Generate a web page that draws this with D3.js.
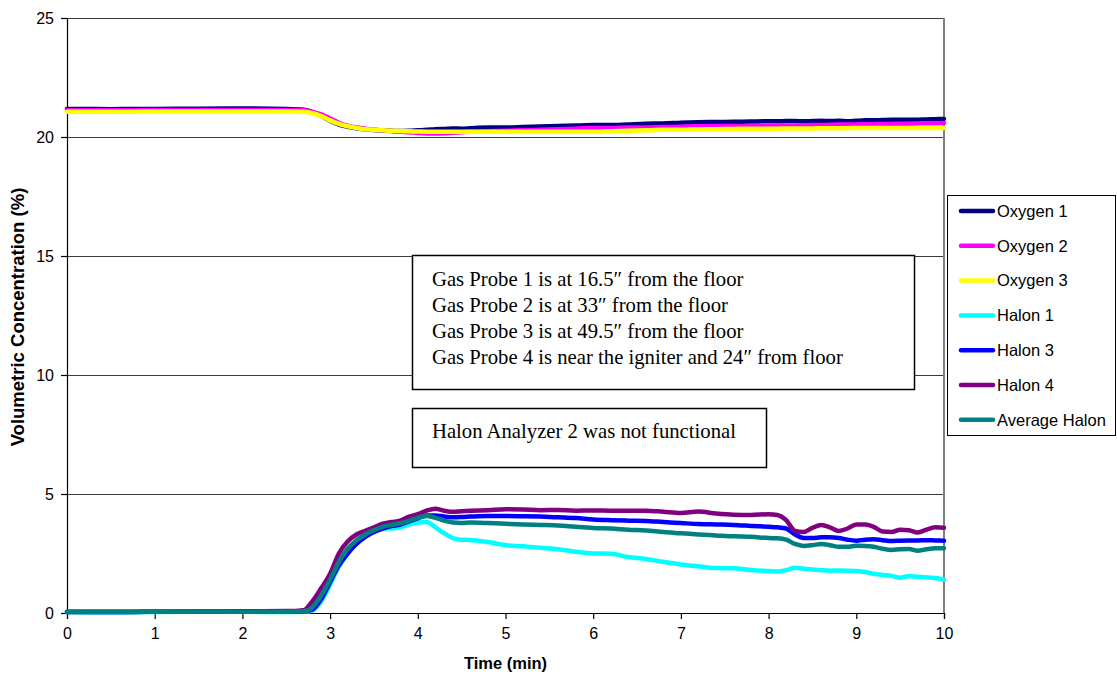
<!DOCTYPE html>
<html>
<head>
<meta charset="utf-8">
<script src="https://cdn.jsdelivr.net/npm/d3@7"></script>
<style>
  html, body { margin: 0; padding: 0; background: #fff; }
  svg { display: block; }
</style>
</head>
<body>
<svg id="chart" width="1117" height="677"></svg>
<script>
// ---- Data ----
const timeMin = [
  0, 0.5, 1, 1.5, 2, 2.5,
  2.7, 2.8, 2.9,
  3.0, 3.1, 3.2, 3.3, 3.4, 3.5, 3.6, 3.7, 3.8, 3.9, 4.0, 4.1, 4.2, 4.3, 4.4, 4.5, 4.6,
  4.8, 5.0, 5.2, 5.4, 5.6, 5.8, 6.0, 6.2, 6.4, 6.6, 6.8, 7.0, 7.2, 7.4, 7.6, 7.8, 8.0,
  8.1, 8.2, 8.3, 8.4, 8.5, 8.6, 8.7, 8.8, 8.9, 9.0, 9.1, 9.2, 9.3, 9.4, 9.5, 9.6, 9.7, 9.8, 9.9, 10.0
];
const oxygen1 = [
  21.18, 21.17, 21.18, 21.19, 21.2, 21.18,
  21.15, 21.05, 20.88,
  20.68, 20.52, 20.43, 20.37, 20.32, 20.29, 20.27, 20.26, 20.25, 20.26, 20.28, 20.3, 20.33, 20.34, 20.36, 20.35, 20.37,
  20.4, 20.4, 20.42, 20.44, 20.46, 20.48, 20.5, 20.5, 20.53, 20.56, 20.57, 20.6, 20.62, 20.63, 20.64, 20.65, 20.66,
  20.66, 20.67, 20.67, 20.66, 20.67, 20.68, 20.67, 20.68, 20.66, 20.68, 20.7, 20.7, 20.71, 20.72, 20.72, 20.73, 20.73, 20.74, 20.75, 20.76
];
const oxygen2 = [
  21.12, 21.12, 21.13, 21.13, 21.13, 21.13,
  21.12, 21.05, 20.95,
  20.78, 20.6, 20.48, 20.4, 20.35, 20.3, 20.27, 20.25, 20.22, 20.2, 20.17, 20.15, 20.15, 20.16, 20.18, 20.2, 20.22,
  20.24, 20.26, 20.28, 20.3, 20.33, 20.35, 20.38, 20.38, 20.4, 20.4, 20.42, 20.43, 20.45, 20.46, 20.46, 20.46, 20.47,
  20.48, 20.48, 20.48, 20.49, 20.5, 20.5, 20.51, 20.52, 20.52, 20.53, 20.54, 20.54, 20.55, 20.55, 20.56, 20.56, 20.57, 20.58, 20.58, 20.59
];
const oxygen3 = [
  21.06, 21.06, 21.07, 21.07, 21.07, 21.07,
  21.06, 21.0, 20.88,
  20.7, 20.55, 20.45, 20.38, 20.33, 20.3, 20.28, 20.26, 20.25, 20.24, 20.23, 20.22, 20.22, 20.22, 20.22, 20.22, 20.22,
  20.22, 20.22, 20.22, 20.22, 20.22, 20.22, 20.22, 20.24, 20.26, 20.28, 20.3, 20.3, 20.32, 20.33, 20.34, 20.35, 20.35,
  20.35, 20.36, 20.36, 20.36, 20.36, 20.37, 20.37, 20.37, 20.37, 20.38, 20.38, 20.38, 20.38, 20.38, 20.38, 20.38, 20.38, 20.38, 20.38, 20.38
];
const halon1 = [
  0.04, 0.03, 0.04, 0.05, 0.05, 0.04,
  0.05, 0.1, 0.5,
  1.2, 1.95, 2.5, 2.9, 3.2, 3.4, 3.55, 3.55, 3.6, 3.72, 3.8, 3.82, 3.6, 3.35, 3.15, 3.08, 3.07,
  2.98, 2.85, 2.8, 2.74, 2.68, 2.57, 2.5, 2.49, 2.35, 2.27, 2.15, 2.04, 1.96, 1.89, 1.88, 1.81, 1.76,
  1.74, 1.8, 1.9, 1.86, 1.83, 1.8, 1.78, 1.79, 1.78, 1.76, 1.72, 1.65, 1.6, 1.56, 1.48, 1.55, 1.52, 1.5, 1.47, 1.41
];
const halon3 = [
  0.04, 0.04, 0.05, 0.05, 0.06, 0.06,
  0.06, 0.15, 0.6,
  1.3, 2.0, 2.5, 2.9, 3.2, 3.4, 3.55, 3.65, 3.72, 3.85, 3.98, 4.1, 4.1, 4.05, 4.02, 4.03, 4.05,
  4.08, 4.08, 4.07, 4.05, 4.02, 3.99, 3.93, 3.9, 3.88, 3.87, 3.82, 3.78, 3.74, 3.72, 3.7, 3.66, 3.62,
  3.6, 3.55, 3.3, 3.15, 3.15, 3.18, 3.18, 3.15, 3.08, 3.04, 3.08, 3.1, 3.06, 3.02, 3.04, 3.05, 3.05, 3.06, 3.05, 3.04
];
const halon4 = [
  0.05, 0.05, 0.05, 0.06, 0.07, 0.08,
  0.12, 0.5, 1.05,
  1.65, 2.5, 3.0, 3.3, 3.45, 3.6, 3.75, 3.82, 3.88, 4.05, 4.15, 4.3, 4.38, 4.3, 4.25, 4.28, 4.3,
  4.32, 4.36, 4.35, 4.32, 4.33, 4.3, 4.31, 4.3, 4.3, 4.3, 4.25, 4.2, 4.26, 4.18, 4.13, 4.12, 4.15,
  4.12, 3.9, 3.45, 3.4, 3.58, 3.7, 3.6, 3.45, 3.55, 3.72, 3.72, 3.62, 3.42, 3.4, 3.5, 3.48, 3.38, 3.5, 3.6, 3.58
];
const averageHalon = [
  0.04, 0.04, 0.05, 0.05, 0.05, 0.05,
  0.07, 0.25, 0.75,
  1.4, 2.15, 2.7, 3.05, 3.3, 3.48, 3.62, 3.7, 3.77, 3.88, 4.0, 4.08, 4.0, 3.88, 3.8, 3.78, 3.8,
  3.78, 3.75, 3.72, 3.7, 3.68, 3.62, 3.57, 3.55, 3.5, 3.47, 3.4, 3.35, 3.3, 3.26, 3.22, 3.2, 3.15,
  3.14, 3.08, 2.9, 2.82, 2.85, 2.9, 2.85, 2.78, 2.78, 2.83, 2.82, 2.78, 2.7, 2.65, 2.68, 2.69, 2.62, 2.68, 2.72, 2.72
];
const seriesNames = ["Oxygen 1", "Oxygen 2", "Oxygen 3", "Halon 1", "Halon 3", "Halon 4", "Average Halon"];
const seriesColors = ["#000080", "#FF00FF", "#FFFF00", "#00FFFF", "#0000FF", "#800080", "#008080"];
const xTicks = [0, 1, 2, 3, 4, 5, 6, 7, 8, 9, 10];
const yTicks = [0, 5, 10, 15, 20, 25];
const noteLines = [
  "Gas Probe 1 is at 16.5\u2033 from the floor",
  "Gas Probe 2 is at 33\u2033 from the floor",
  "Gas Probe 3 is at 49.5\u2033 from the floor",
  "Gas Probe 4 is near the igniter and 24\u2033 from floor"
];
const note2 = "Halon Analyzer 2 was not functional";
const xTitle = "Time (min)";
const yTitle = "Volumetric Concentration (%)";

// ---- Chart ----
const seriesValues = [oxygen1, oxygen2, oxygen3, halon1, halon3, halon4, averageHalon];
const svg = d3.select("#chart");
const plot = { left: 67, right: 944, top: 18, bottom: 613 };

const x = d3.scaleLinear().domain([0, 10]).range([plot.left, plot.right]);
const y = d3.scaleLinear().domain([0, 25]).range([plot.bottom, plot.top]);

// gridlines
svg.append("g").selectAll("line").data(yTicks.filter(d => d > 0)).join("line")
  .attr("x1", plot.left).attr("x2", plot.right)
  .attr("y1", d => y(d)).attr("y2", d => y(d))
  .attr("stroke", "#3a3a3a").attr("stroke-width", 1).attr("shape-rendering", "crispEdges");

// right border
svg.append("line")
  .attr("x1", plot.right).attr("x2", plot.right)
  .attr("y1", plot.top).attr("y2", plot.bottom)
  .attr("stroke", "#808080").attr("stroke-width", 1.5).attr("shape-rendering", "crispEdges");

// axes
const xAxis = d3.axisBottom(x).tickValues(xTicks).tickSize(6).tickPadding(6).tickFormat(d3.format("d"));
const gx = svg.append("g").attr("transform", `translate(0,${plot.bottom})`).call(xAxis);
const yAxis = d3.axisLeft(y).tickValues(yTicks).tickSize(6).tickPadding(7).tickFormat(d3.format("d"));
const gy = svg.append("g").attr("transform", `translate(${plot.left},0)`).call(yAxis);
[gx, gy].forEach(g => {
  g.select(".domain").attr("stroke", "#000").attr("stroke-width", 1.2);
  g.selectAll(".tick line").attr("stroke", "#000").attr("stroke-width", 1.2);
  g.selectAll(".tick text").attr("font-family", "Liberation Sans, Arial, sans-serif")
    .attr("font-size", 16).attr("fill", "#000");
});
gx.selectAll(".tick text").attr("dy", "0.9em");

// axis titles
svg.append("text").attr("x", (plot.left + plot.right) / 2 + 0).attr("y", 669)
  .attr("text-anchor", "middle").attr("font-family", "Liberation Sans, Arial, sans-serif")
  .attr("font-weight", "bold").attr("font-size", 16.5).text(xTitle);
svg.append("text").attr("transform", "translate(24,317) rotate(-90)")
  .attr("text-anchor", "middle").attr("font-family", "Liberation Sans, Arial, sans-serif")
  .attr("font-weight", "bold").attr("font-size", 18.5).text(yTitle);

// lines
const line = d3.line().x((d, i) => x(timeMin[i])).y(d => y(d)).curve(d3.curveMonotoneX);
const data = seriesNames.map((n, i) => ({ name: n, color: seriesColors[i], values: seriesValues[i] }));
svg.append("g").selectAll("path").data(data).join("path")
  .attr("d", d => line(d.values))
  .attr("fill", "none").attr("stroke", d => d.color)
  .attr("stroke-width", 4.5).attr("stroke-linejoin", "round").attr("stroke-linecap", "round");

// notes
const noteFont = "Liberation Serif, Times New Roman, serif";
svg.append("rect").attr("x", 412.5).attr("y", 255.5).attr("width", 502).attr("height", 134)
  .attr("fill", "#fff").attr("stroke", "#000").attr("stroke-width", 1.5);
svg.append("g").selectAll("text").data(noteLines).join("text")
  .attr("x", 432).attr("y", (d, i) => 286 + i * 26)
  .attr("font-family", noteFont).attr("font-size", 20.7).attr("fill", "#000").text(d => d);
svg.append("rect").attr("x", 412.5).attr("y", 408.5).attr("width", 354).attr("height", 59)
  .attr("fill", "#fff").attr("stroke", "#000").attr("stroke-width", 1.5);
svg.append("text").attr("x", 432).attr("y", 438)
  .attr("font-family", noteFont).attr("font-size", 20.7).attr("fill", "#000").text(note2);

// legend
const lg = svg.append("g");
lg.append("rect").attr("x", 947.5).attr("y", 195.5).attr("width", 168).attr("height", 240)
  .attr("fill", "#fff").attr("stroke", "#000").attr("stroke-width", 1);
const items = lg.selectAll("g.item").data(data).join("g").attr("class", "item")
  .attr("transform", (d, i) => `translate(0,${211 + i * 34.8})`);
items.append("line").attr("x1", 961).attr("x2", 993).attr("y1", 0).attr("y2", 0)
  .attr("stroke", d => d.color).attr("stroke-width", 4.5).attr("stroke-linecap", "round");
items.append("text").attr("x", 997).attr("y", 0).attr("dy", "0.35em")
  .attr("font-family", "Liberation Sans, Arial, sans-serif").attr("font-size", 16.5)
  .attr("fill", "#000").text(d => d.name);
</script>
</body>
</html>
